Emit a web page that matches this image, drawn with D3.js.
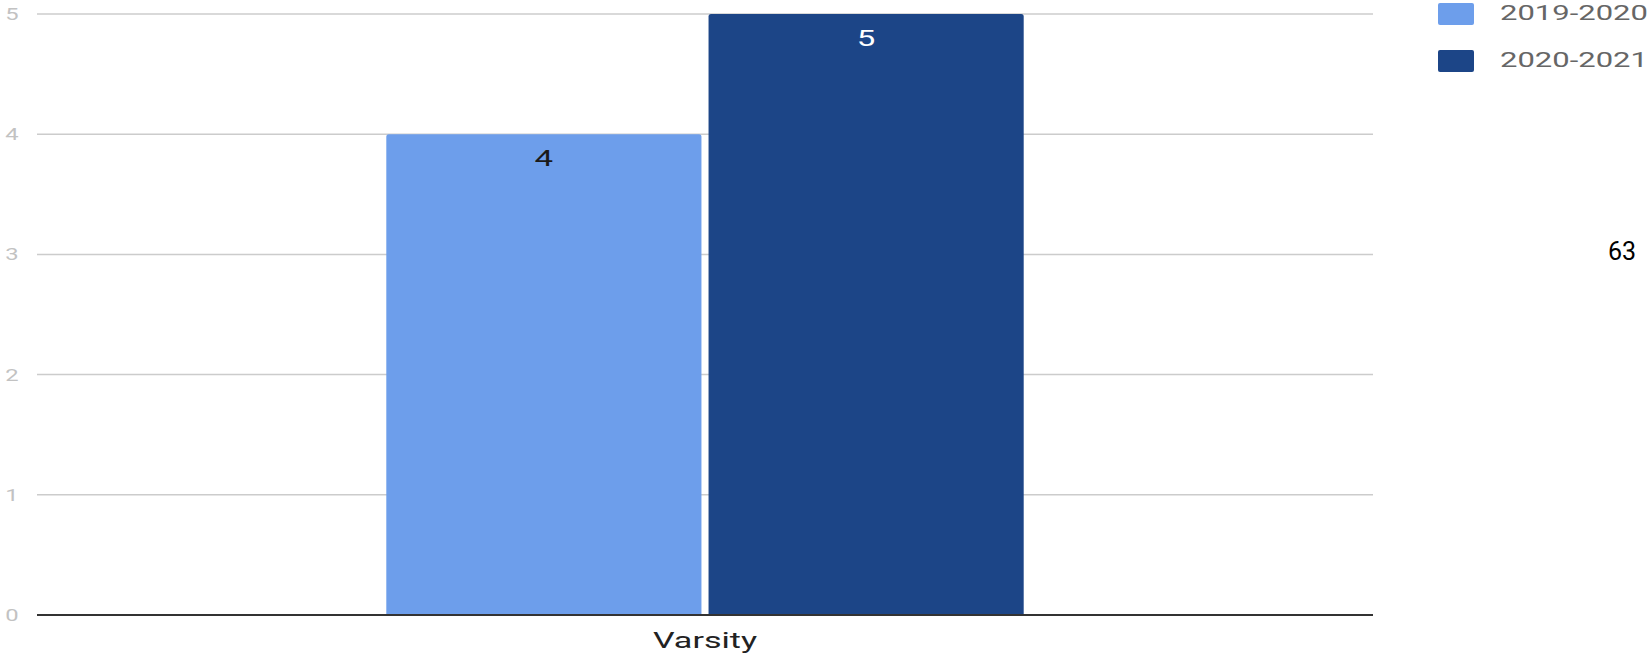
<!DOCTYPE html>
<html>
<head>
<meta charset="utf-8">
<script src="https://cdn.jsdelivr.net/npm/d3@7"></script>
<style>
  html, body { margin: 0; padding: 0; background: #fff; }
  svg { display: block; }
  text { font-family: Roboto, "Noto Sans", sans-serif; }
</style>
</head>
<body>
<svg id="chart" width="1652" height="656"></svg>
<script>
const categories = ["Varsity"];
const seriesNames = ["2019-2020", "2020-2021"];
const values2019 = [4];
const values2020 = [5];
const yTicks = [0, 1, 2, 3, 4, 5];
const seriesColors = ["#6d9eeb", "#1c4587"];
const labelColors = ["#1a1a1a", "#ffffff"];
const pageNumber = "63";

const seriesValues = [values2019, values2020];
const svg = d3.select("#chart");
const stretch = 1.5;

const plot = { left: 37, right: 1373, top: 14, bottom: 615 };

const x0 = d3.scaleBand().domain(categories).range([plot.left, plot.right])
  .paddingInner(0).paddingOuter(0.548);
const x1 = d3.scaleBand().domain(seriesNames).range([0, x0.bandwidth()])
  .paddingInner(0.022).paddingOuter(0);
const y = d3.scaleLinear().domain([0, 5]).range([plot.bottom, plot.top]);

// gridlines
svg.append("g").selectAll("line").data(yTicks.filter(d => d !== 0)).join("line")
  .attr("x1", plot.left).attr("x2", plot.right)
  .attr("y1", d => y(d)).attr("y2", d => y(d))
  .attr("stroke", "#cccccc").attr("stroke-width", 1.5);

// y tick labels
svg.append("g").selectAll("text").data(yTicks).join("text")
  .attr("transform", d => `translate(12,${y(d) + 6}) scale(1.4,1)`)
  .attr("text-anchor", "middle")
  .attr("font-size", 17)
  .attr("fill", "#c2c2c2")
  .text(d => d);

// bars
const data = [];
categories.forEach((c, ci) => {
  seriesNames.forEach((s, si) => {
    data.push({ cat: c, series: s, si, value: seriesValues[si][ci] });
  });
});

function topRoundedRect(x, yTop, w, h, r) {
  return `M${x},${yTop + h} L${x},${yTop + r} Q${x},${yTop} ${x + r},${yTop} L${x + w - r},${yTop} Q${x + w},${yTop} ${x + w},${yTop + r} L${x + w},${yTop + h} Z`;
}

const barG = svg.append("g");
barG.selectAll("path").data(data).join("path")
  .attr("d", d => {
    const bx = x0(d.cat) + x1(d.series);
    const by = y(d.value);
    return topRoundedRect(bx, by, x1.bandwidth(), y(0) - by, 2.5);
  })
  .attr("fill", d => seriesColors[d.si]);

// bar value labels
barG.selectAll("text").data(data).join("text")
  .attr("transform", d => `translate(${x0(d.cat) + x1(d.series) + x1.bandwidth() / 2},${y(d.value) + 32}) scale(${stretch},1)`)
  .attr("text-anchor", "middle")
  .attr("font-size", 22)
  .attr("fill", d => labelColors[d.si])
  .text(d => d.value);

// baseline
svg.append("line")
  .attr("x1", plot.left).attr("x2", plot.right)
  .attr("y1", y(0)).attr("y2", y(0))
  .attr("stroke", "#333333").attr("stroke-width", 2);

// category labels
svg.append("g").selectAll("text").data(categories).join("text")
  .attr("transform", d => `translate(${x0(d) + x0.bandwidth() / 2},648) scale(1.55,1)`)
  .attr("text-anchor", "middle")
  .attr("font-size", 22)
  .attr("fill", "#222222")
  .text(d => d);

// legend
const legend = svg.append("g");
seriesNames.forEach((s, i) => {
  legend.append("rect")
    .attr("x", 1438).attr("y", 3 + i * 47)
    .attr("width", 36).attr("height", 22).attr("rx", 2)
    .attr("fill", seriesColors[i]);
  legend.append("text")
    .attr("transform", `translate(1500,${20 + i * 47}) scale(1.55,1)`)
    .attr("font-size", 20)
    .attr("fill", "#666666")
    .text(s);
});

// page number
svg.append("text")
  .attr("x", 1622).attr("y", 260)
  .attr("text-anchor", "middle")
  .attr("font-family", "'Liberation Sans', Arial, sans-serif")
  .attr("font-size", 25)
  .attr("fill", "#000")
  .text(pageNumber);
</script>
</body>
</html>
